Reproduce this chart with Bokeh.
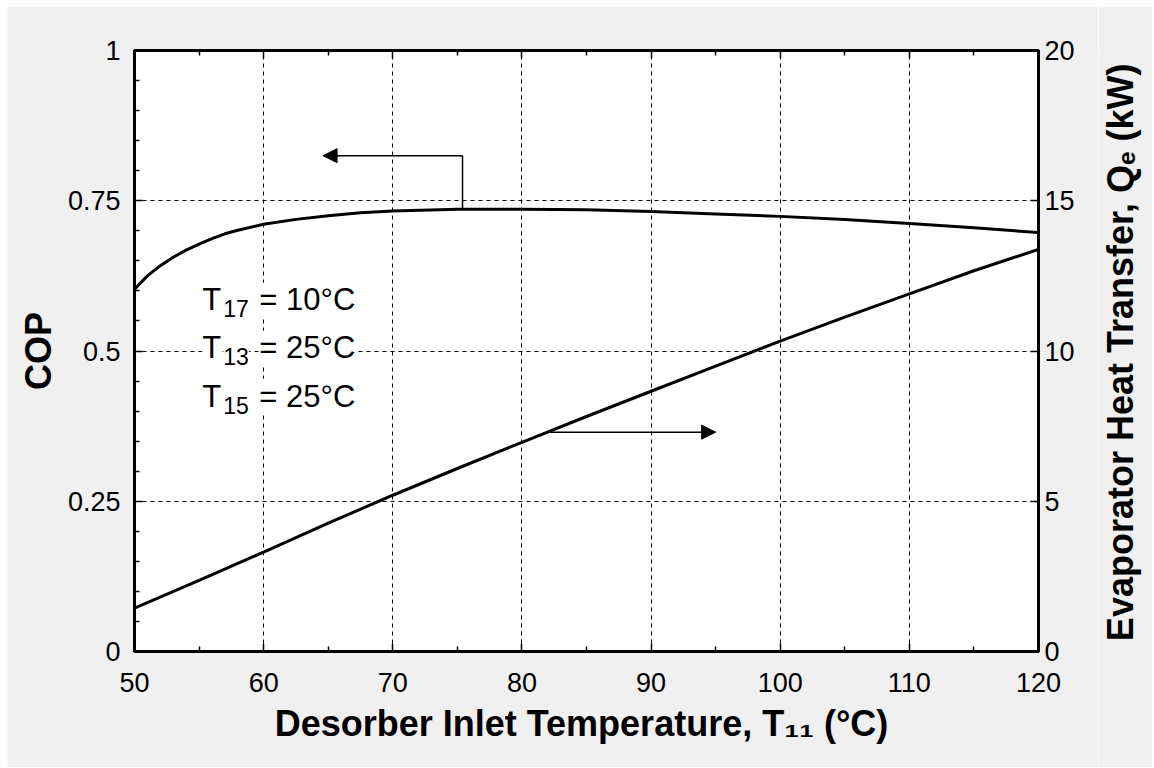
import math
from bokeh.plotting import figure
from bokeh.layouts import row
from bokeh.models import (Range1d, LinearAxis, FixedTicker, Arrow, NormalHead,
                          Label, ColumnDataSource)
from bokeh.embed import file_html
from bokeh.resources import INLINE

# ---------------- data ----------------
temp_cop = [50, 51, 52, 53, 54, 55, 56, 57, 58, 60, 62.5, 65, 67.5, 70, 75, 80,
            85, 90, 95, 100, 105, 110, 115, 120]
cop = [0.603, 0.625, 0.642, 0.656, 0.668, 0.678, 0.687, 0.695, 0.701, 0.711,
       0.719, 0.725, 0.730, 0.733, 0.736, 0.736, 0.735, 0.732, 0.728, 0.724,
       0.719, 0.712, 0.705, 0.697]

temp_qe = [50, 55, 60, 65, 70, 75, 80, 85, 90, 95, 100, 105, 110, 115, 120]
qe = [1.44, 2.37, 3.31, 4.27, 5.2, 6.09, 6.96, 7.82, 8.66, 9.5, 10.33, 11.13,
      11.9, 12.67, 13.38]

x_ticks = [50, 60, 70, 80, 90, 100, 110, 120]
x_minor = [55, 65, 75, 85, 95, 105, 115]
cop_ticks = [0, 0.25, 0.5, 0.75, 1]
cop_tick_labels = ["0", "0.25", "0.5", "0.75", "1"]
cop_minor = [0.05, 0.1, 0.15, 0.2, 0.3, 0.35, 0.4, 0.45, 0.55, 0.6, 0.65, 0.7,
             0.8, 0.85, 0.9, 0.95]
qe_ticks = [0, 5, 10, 15, 20]

conditions = [("17", "10°C"), ("13", "25°C"), ("15", "25°C")]
cond_x = 55.25
cond_y = [0.585, 0.505, 0.425]

# arrows (annotation anchors)
cop_arrow = dict(x_start=75.4, x_end=64.6, y=0.825, y_curve=0.736)
qe_arrow = dict(x_start=82.2, x_end=95.0, y=7.3)

right_title = "Evaporator Heat Transfer, Q\u2091  (kW)"

FONT = "Liberation Sans"
BG = "#f0f0f0"

p = figure(frame_width=904, frame_height=601, output_backend="svg",
           toolbar_location=None, x_range=Range1d(50, 120), y_range=Range1d(0, 1),
           background_fill_color="white", border_fill_color=BG,
           min_border_left=127, min_border_right=60, min_border_top=44,
           min_border_bottom=116)
p.margin = (6, 0, 0, 7)
p.outline_line_color = "black"
p.outline_line_width = 3
p.extra_y_ranges = {"qe": Range1d(0, 20)}

src_cop = ColumnDataSource(dict(x=temp_cop, y=cop))
src_qe = ColumnDataSource(dict(x=temp_qe, y=qe))
p.line("x", "y", source=src_cop, line_color="black", line_width=3)
p.line("x", "y", source=src_qe, line_color="black", line_width=3, y_range_name="qe")

# --- axes ---
def style_axis(ax):
    ax.axis_line_color = "black"
    ax.axis_line_width = 3
    ax.major_tick_in = 8
    ax.major_tick_out = 0
    ax.minor_tick_in = 5
    ax.minor_tick_out = 0
    ax.major_tick_line_color = "black"
    ax.minor_tick_line_color = "black"
    ax.major_tick_line_width = 1.5
    ax.minor_tick_line_width = 1.5
    ax.major_label_text_font = FONT
    ax.major_label_text_font_size = "27px"
    ax.major_label_text_color = "black"
    ax.axis_label_text_font = FONT
    ax.axis_label_text_font_size = "36px"
    ax.axis_label_text_font_style = "bold"
    ax.axis_label_text_color = "black"

xt = FixedTicker(ticks=x_ticks, minor_ticks=x_minor)
yt = FixedTicker(ticks=cop_ticks, minor_ticks=cop_minor)

xax = p.xaxis[0]
xax.ticker = xt
style_axis(xax)
xax.axis_label = "Desorber Inlet Temperature, T\u2081\u2081  (°C)"
xax.major_label_standoff = 21
xax.axis_label_standoff = 8

yax = p.yaxis[0]
yax.ticker = yt
style_axis(yax)
yax.major_label_overrides = {t: l for t, l in zip(cop_ticks, cop_tick_labels)}
yax.axis_label = "COP"
yax.major_label_standoff = 14
yax.axis_label_standoff = 6

top = LinearAxis(ticker=FixedTicker(ticks=x_ticks, minor_ticks=x_minor))
style_axis(top)
top.major_label_text_font_size = "0px"
top.major_label_text_color = None
top.major_label_standoff = 0
p.add_layout(top, "above")

right = LinearAxis(y_range_name="qe", ticker=FixedTicker(ticks=qe_ticks))
style_axis(right)
right.major_label_standoff = 6
p.add_layout(right, "right")

p.xgrid.ticker = xt
p.ygrid.ticker = yt
for g in (p.xgrid[0], p.ygrid[0]):
    g.grid_line_color = "black"
    g.grid_line_dash = "4 4"
    g.grid_line_width = 1

# --- arrows ---
p.segment(x0=[cop_arrow["x_start"]], y0=[cop_arrow["y"]],
          x1=[cop_arrow["x_start"]], y1=[cop_arrow["y_curve"]],
          line_color="black", line_width=1.5)
p.add_layout(Arrow(x_start=cop_arrow["x_start"], y_start=cop_arrow["y"],
                   x_end=cop_arrow["x_end"], y_end=cop_arrow["y"],
                   line_color="black", line_width=1.5,
                   end=NormalHead(size=14, fill_color="black", line_color="black")))
p.add_layout(Arrow(x_start=qe_arrow["x_start"], y_start=qe_arrow["y"],
                   x_end=qe_arrow["x_end"], y_end=qe_arrow["y"],
                   y_range_name="qe", line_color="black", line_width=1.5,
                   end=NormalHead(size=14, fill_color="black", line_color="black")))

# --- condition labels ---
for (sub, val), yy in zip(conditions, cond_y):
    p.add_layout(Label(x=cond_x, y=yy, text="T", text_font=FONT,
                       text_font_size="31px", text_baseline="middle",
                       background_fill_color="white", text_color="black"))
    p.add_layout(Label(x=cond_x, y=yy, x_offset=21, y_offset=-9, text=sub,
                       text_font=FONT, text_font_size="23px",
                       text_baseline="middle", background_fill_color="white",
                       text_color="black"))
    p.add_layout(Label(x=cond_x, y=yy, x_offset=57, text="= " + val,
                       text_font=FONT, text_font_size="31px",
                       text_baseline="middle", background_fill_color="white",
                       text_color="black"))

# --- right-hand axis title in a narrow companion panel ---
p2 = figure(frame_width=54, frame_height=761, output_backend="svg",
            toolbar_location=None, x_range=Range1d(0, 1), y_range=Range1d(0, 1),
            x_axis_location=None, y_axis_location=None,
            background_fill_color=BG, border_fill_color=BG,
            min_border=0, min_border_left=0, min_border_right=0,
            min_border_top=0, min_border_bottom=0)
p2.margin = (6, 0, 0, 0)
p2.outline_line_color = None
p2.grid.visible = False
p2.add_layout(Label(x=0.41, y=0.61, text=right_title, angle=math.pi / 2,
                    text_align="center", text_baseline="middle",
                    text_font=FONT, text_font_size="36px", text_font_style="bold",
                    text_color="black"))

layout = row(p, p2)
open("out.html", "w").write(file_html(layout, INLINE))
